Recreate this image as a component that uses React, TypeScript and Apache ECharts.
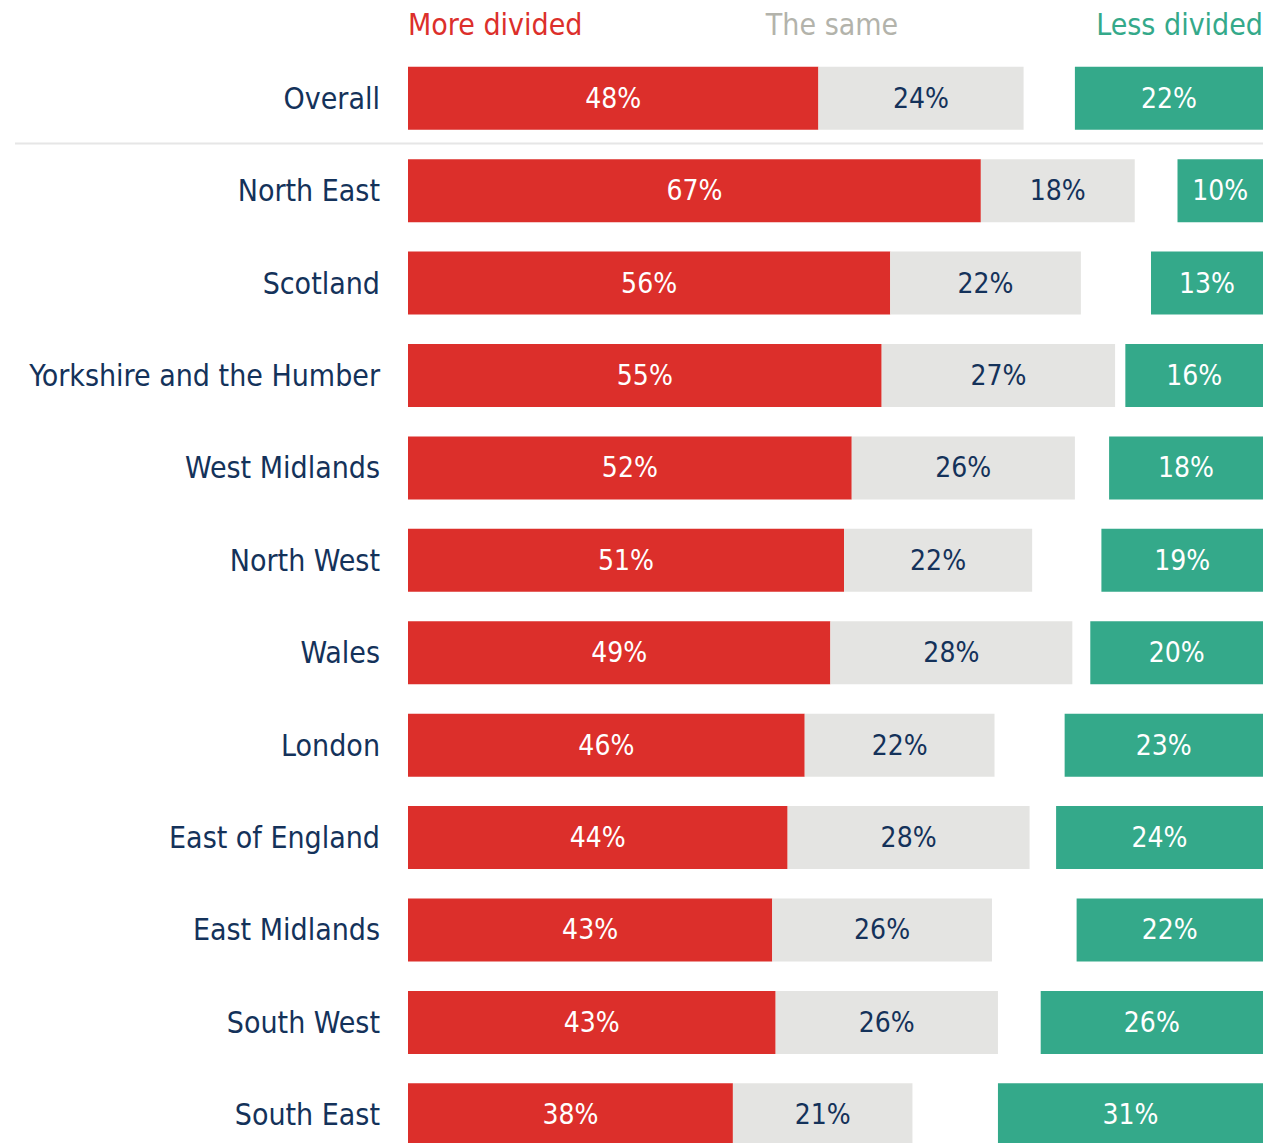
import React, { useEffect, useRef } from "react";
import * as echarts from "echarts";

const categories = [
  "Overall",
  "North East",
  "Scotland",
  "Yorkshire and the Humber",
  "West Midlands",
  "North West",
  "Wales",
  "London",
  "East of England",
  "East Midlands",
  "South West",
  "South East",
];

const seriesNames = ["More divided", "The same", "Don't know", "Less divided"];

const moreDivided = [48, 67, 56.4, 55.4, 51.9, 51, 49.4, 46.4, 44.4, 42.6, 43, 38];
const theSame = [24, 18, 22.3, 27.3, 26.1, 22, 28.3, 22.2, 28.3, 25.7, 26, 21];
const dontKnow = [6, 5, 8.2, 1.2, 4, 8.1, 2.1, 8.2, 3.1, 9.9, 5, 10];
const lessDivided = [22, 10, 13.1, 16.1, 18, 18.9, 20.2, 23.2, 24.2, 21.8, 26, 31];

const RED = "#dc2f2b";
const GREY = "#e4e4e2";
const GREEN = "#34a98a";
const NAVY = "#14325a";
const HEADER_GREY = "#b3b3ab";
const FONT = "'Liberation Sans Narrow', 'DejaVu Sans Condensed', 'DejaVu Sans', sans-serif";

export default function App() {
  const ref = useRef<HTMLDivElement>(null);

  useEffect(() => {
    if (!ref.current) return;
    const chart = echarts.init(ref.current, undefined, { renderer: "svg" });
    const fmt = (p: any) => Math.round(p.value) + "%";
    const labelBase = {
      show: true,
      position: "inside" as const,
      fontFamily: FONT,
      fontSize: 28,
      formatter: fmt,
    };
    chart.setOption({
      animation: false,
      backgroundColor: "#ffffff",
      grid: {
        left: 408,
        right: 25,
        top: 52,
        bottom: 0,
        containLabel: false,
        outerBoundsMode: "none",
      },
      xAxis: {
        type: "value",
        min: 0,
        max: 100,
        show: false,
      },
      yAxis: {
        type: "category",
        data: categories,
        inverse: true,
        axisLine: { show: false },
        axisTick: { show: false },
        splitLine: { show: false },
        axisLabel: {
          color: NAVY,
          fontFamily: FONT,
          fontSize: 30,
          margin: 28,
        },
      },
      graphic: [
        {
          type: "text",
          x: 408,
          y: 24,
          style: {
            text: seriesNames[0],
            fill: RED,
            font: `30px ${FONT}`,
            align: "left",
            verticalAlign: "middle",
          },
        },
        {
          type: "text",
          x: 832,
          y: 24,
          style: {
            text: seriesNames[1],
            fill: HEADER_GREY,
            font: `30px ${FONT}`,
            align: "center",
            verticalAlign: "middle",
          },
        },
        {
          type: "text",
          x: 1263,
          y: 24,
          style: {
            text: seriesNames[3],
            fill: GREEN,
            font: `30px ${FONT}`,
            align: "right",
            verticalAlign: "middle",
          },
        },
        {
          type: "line",
          shape: { x1: 15, y1: 143.5, x2: 1263, y2: 143.5 },
          style: { stroke: "#e6e6e6", lineWidth: 2 },
        },
      ],
      series: [
        {
          name: seriesNames[0],
          type: "bar",
          stack: "total",
          barWidth: 63,
          data: moreDivided,
          itemStyle: { color: RED },
          label: { ...labelBase, color: "#ffffff" },
        },
        {
          name: seriesNames[1],
          type: "bar",
          stack: "total",
          barWidth: 63,
          data: theSame,
          itemStyle: { color: GREY },
          label: { ...labelBase, color: NAVY },
        },
        {
          name: seriesNames[2],
          type: "bar",
          stack: "total",
          barWidth: 63,
          data: dontKnow,
          itemStyle: { color: "rgba(0,0,0,0)" },
          label: { show: false },
          silent: true,
        },
        {
          name: seriesNames[3],
          type: "bar",
          stack: "total",
          barWidth: 63,
          data: lessDivided,
          itemStyle: { color: GREEN },
          label: { ...labelBase, color: "#ffffff" },
        },
      ],
    });
    return () => chart.dispose();
  }, []);

  return (
    <div
      style={{
        position: "absolute",
        left: 0,
        top: 0,
        width: 1288,
        height: 1143,
        overflow: "hidden",
        background: "#ffffff",
      }}
    >
      <div ref={ref} style={{ width: 1288, height: 1161 }} />
    </div>
  );
}
